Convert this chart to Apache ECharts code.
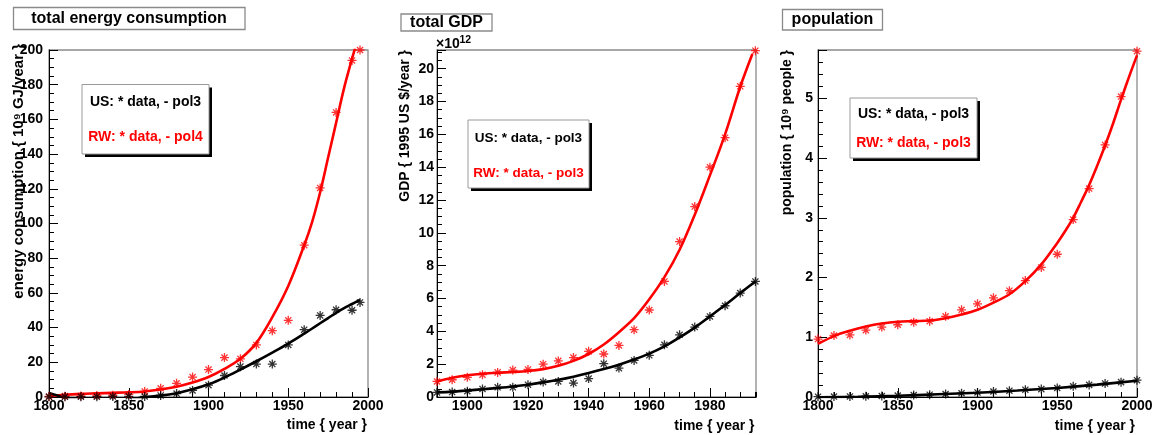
<!DOCTYPE html>
<html><head><meta charset="utf-8">
<script src="https://cdn.jsdelivr.net/npm/echarts@6/dist/echarts.min.js"></script>
<style>html,body{margin:0;padding:0;background:#fff}#c{width:1166px;height:435px}</style>
</head><body><div id="c"></div>
<script>
// ---------- data ----------
const energyYears = [1800,1810,1820,1830,1840,1850,1860,1870,1880,1890,1900,1910,1920,1930,1940,1950,1960,1970,1980,1990,1995];
const energyRW = [0.3,0.5,0.6,0.8,1.0,1.5,3.2,5.0,7.9,11.5,15.8,22.7,22.0,30.0,38.2,44.2,87.5,120.5,164,194,200];
const energyUS = [0.1,0.1,0.2,0.2,0.3,0.4,0.3,0.9,2.0,3.8,6.8,12.4,17.5,19.0,19.0,30.0,38.8,47.0,50.3,50.0,54.5];
const energyFitYears = [1800,1810,1820,1830,1840,1850,1860,1870,1880,1890,1900,1910,1920,1930,1940,1950,1960,1965,1970,1975,1980,1985,1990,1995];
const energyRWFit = [0.5,1.3,1.8,2.1,2.4,2.7,3.2,4.3,5.9,8.3,11.5,16.2,22.0,31.2,46.0,64.0,87.5,101,118,138,158,178,195,211];
const energyUSFit = [2.3,-0.3,-1.8,-2.6,-2.6,-1.8,0.0,0.8,2.2,4.4,7.3,11.2,15.8,20.6,25.6,30.8,36.5,39.5,42.5,45.5,48.5,51.2,53.6,56.0];

const gdpYears = [1890,1895,1900,1905,1910,1915,1920,1925,1930,1935,1940,1945,1950,1955,1960,1965,1970,1975,1980,1985,1990,1995];
const gdpRW = [0.95,1.05,1.2,1.36,1.5,1.64,1.68,2.0,2.2,2.4,2.78,2.62,3.14,4.1,5.3,7.04,9.47,11.6,14.0,15.8,18.93,21.1];
const gdpUS = [0.28,0.3,0.35,0.49,0.59,0.59,0.75,0.91,0.95,0.85,1.12,2.03,1.76,2.23,2.54,3.18,3.79,4.26,4.91,5.56,6.33,7.04];
const gdpRWFitYears = [1890,1895,1900,1905,1910,1915,1920,1925,1930,1935,1940,1945,1950,1955,1960,1965,1970,1975,1980,1985,1990,1994];
const gdpRWFit = [0.95,1.17,1.32,1.42,1.48,1.52,1.58,1.7,1.9,2.2,2.62,3.2,3.95,4.8,5.95,7.3,8.97,11.1,13.5,16.0,18.9,20.9];
const gdpUSFit = [0.28,0.33,0.4,0.47,0.55,0.64,0.75,0.89,1.05,1.24,1.46,1.7,1.97,2.28,2.64,3.08,3.63,4.23,4.91,5.6,6.33,7.04];

const popYears = [1800,1810,1820,1830,1840,1850,1860,1870,1880,1890,1900,1910,1920,1930,1940,1950,1960,1970,1980,1990,2000];
const popRW = [0.97,1.03,1.04,1.12,1.17,1.21,1.25,1.27,1.35,1.46,1.56,1.66,1.78,1.95,2.17,2.39,2.97,3.49,4.22,5.03,5.79];
const popUS = [0.0053,0.0072,0.0096,0.0129,0.017,0.0232,0.0314,0.0386,0.0502,0.063,0.076,0.092,0.106,0.123,0.132,0.151,0.179,0.203,0.227,0.249,0.281];
const popRWFitYears = [1800,1810,1820,1830,1840,1850,1860,1870,1880,1890,1900,1910,1920,1930,1940,1950,1955,1960,1965,1970,1975,1980,1985,1990,1995,2000];
const popRWFit = [0.89,1.02,1.11,1.18,1.23,1.26,1.27,1.28,1.32,1.38,1.46,1.58,1.72,1.94,2.22,2.58,2.78,3.0,3.27,3.55,3.87,4.21,4.58,4.98,5.36,5.72];
const popUSFitYears = [1800,1825,1850,1875,1900,1925,1950,1975,2000];
const popUSFit = [-0.005,0.004,0.02,0.045,0.072,0.108,0.152,0.207,0.272];

const gdpXLabels = [1900,1920,1940,1960,1980];

// ---------- helpers ----------
const FONT = '"Liberation Sans", Arial, Helvetica, sans-serif';
const RED = '#ff0000', BLACK = '#000000';
const pair = (xs, ys) => xs.map((x, i) => [x, ys[i]]);
const STAR = 'path://M5,0L5,10M0,5L10,5M1.6,1.6L8.4,8.4M1.6,8.4L8.4,1.6';
const plain = v => String(v);

function scatter(xi, yi, data, color) {
  return { type: 'scatter', xAxisIndex: xi, yAxisIndex: yi, data: data,
    symbol: STAR, symbolSize: 9, z: 4,
    itemStyle: { color: 'rgba(0,0,0,0)', borderColor: color, borderWidth: 1.3 } };
}
function fit(xi, yi, data, color) {
  return { type: 'line', xAxisIndex: xi, yAxisIndex: yi, data: data, smooth: 0.35,
    symbol: 'none', showSymbol: false, clip: true, z: 3,
    lineStyle: { color: color, width: 2.6 }, itemStyle: { color: color } };
}
const lbl = (m) => ({ margin: m, fontSize: 14, fontWeight: 'bold', color: '#000', fontFamily: FONT, formatter: plain });
const axLine = { onZero: false, lineStyle: { color: '#000', width: 1 } };
function yAx(gi, max, interval, split, margin) {
  return { gridIndex: gi, type: 'value', min: 0, max: max, interval: interval,
    axisLine: Object.assign({ show: true }, axLine),
    axisTick: { show: true, inside: true, length: 9, lineStyle: { color: '#000' } },
    minorTick: { show: true, splitNumber: split, length: 5, lineStyle: { color: '#000' } },
    splitLine: { show: false }, minorSplitLine: { show: false },
    axisLabel: Object.assign({ showMaxLabel: max % interval === 0 }, lbl(margin)) };
}
function txt(x, y, text, size, color, align, extra) {
  return Object.assign({ type: 'text', x: x, y: y, z: 100,
    style: { text: text, fill: color, font: 'bold ' + size + 'px ' + FONT,
      align: align, textAlign: align, verticalAlign: 'middle', textVerticalAlign: 'middle' } }, extra || {});
}
function titleBox(x, y, w, h, text, tx, ty) {
  return [
    { type: 'rect', z: 99, shape: { x: x, y: y, width: w, height: h },
      style: { fill: '#fff', stroke: '#8a8a8a', lineWidth: 1.3 } },
    txt(tx, ty, text, 16, '#000', 'center')
  ];
}
function legendBox(x, y, w, h, l1, l2, y1, y2, size) {
  return [
    { type: 'rect', z: 98, shape: { x: x + 3, y: y + 3, width: w, height: h }, style: { fill: '#000' } },
    { type: 'rect', z: 99, shape: { x: x, y: y, width: w, height: h },
      style: { fill: '#fff', stroke: '#9a9a9a', lineWidth: 1 } },
    txt(x + w / 2, y1, l1, size, '#000', 'center'),
    txt(x + w / 2, y2, l2, size, RED, 'center')
  ];
}

const grids = [
  { left: 49, top: 50, width: 319, height: 347 },
  { left: 437, top: 50, width: 319, height: 347 },
  { left: 818, top: 50, width: 319, height: 347 }
].map(g => Object.assign(g, { show: true, borderColor: '#8a8a8a', borderWidth: 1.3,
  backgroundColor: 'transparent', containLabel: false, outerBoundsMode: 'none' }));

const xAxes = [
  { gridIndex: 0, type: 'value', min: 1800, max: 2000, interval: 50, position: 'bottom',
    axisLine: axLine, axisTick: { inside: true, length: 9, lineStyle: { color: '#000' } },
    minorTick: { show: true, splitNumber: 5, length: 5, lineStyle: { color: '#000' } },
    splitLine: { show: false }, axisLabel: lbl(2) },
  { gridIndex: 1, type: 'value', min: 1890, max: 1995.2, position: 'bottom',
    axisLine: axLine,
    axisTick: { inside: true, length: 9, customValues: gdpXLabels, lineStyle: { color: '#000' } },
    splitLine: { show: false }, axisLabel: Object.assign({ customValues: gdpXLabels }, lbl(2)) },
  { gridIndex: 2, type: 'value', min: 1800, max: 2000, interval: 50, position: 'bottom',
    axisLine: axLine, axisTick: { inside: true, length: 9, lineStyle: { color: '#000' } },
    minorTick: { show: true, splitNumber: 5, length: 5, lineStyle: { color: '#000' } },
    splitLine: { show: false }, axisLabel: lbl(2) },
  { gridIndex: 1, type: 'value', min: 1890, max: 1995.2, interval: 5, position: 'bottom',
    axisLine: { show: false, onZero: false },
    axisTick: { inside: true, length: 5, lineStyle: { color: '#000' } },
    splitLine: { show: false }, axisLabel: { show: false } }
];
const yAxes = [ yAx(0, 200, 20, 4, 6), yAx(1, 21.14, 2, 4, 3), yAx(2, 5.81, 1, 5, 5) ];

const series = [
  scatter(0, 0, pair(energyYears, energyRW), RED),
  scatter(0, 0, pair(energyYears, energyUS), BLACK),
  fit(0, 0, pair(energyFitYears, energyRWFit), RED),
  fit(0, 0, pair(energyFitYears, energyUSFit), BLACK),
  scatter(1, 1, pair(gdpYears, gdpRW), RED),
  scatter(1, 1, pair(gdpYears, gdpUS), BLACK),
  fit(1, 1, pair(gdpRWFitYears, gdpRWFit), RED),
  fit(1, 1, pair(gdpYears, gdpUSFit), BLACK),
  scatter(2, 2, pair(popYears, popRW), RED),
  scatter(2, 2, pair(popYears, popUS), BLACK),
  fit(2, 2, pair(popRWFitYears, popRWFit), RED),
  fit(2, 2, pair(popUSFitYears, popUSFit), BLACK)
];

const rot = { rotation: Math.PI / 2 };
const graphics = [].concat(
  titleBox(13.5, 7.5, 231.5, 22, 'total energy consumption', 129, 18.5),
  titleBox(401, 14, 91, 17, 'total GDP', 446.5, 22.5),
  titleBox(782.5, 9.5, 100, 20.5, 'population', 832.5, 20),
  legendBox(82, 84.5, 127, 69.5, 'US: * data, - pol3', 'RW: * data, - pol4', 102.5, 137, 14),
  legendBox(468, 120, 121, 68, 'US: * data, - pol3', 'RW: * data, - pol3', 138.5, 173, 13.5),
  legendBox(850, 98, 127, 60, 'US: * data, - pol3', 'RW: * data, - pol3', 114.5, 143.5, 14),
  [
    txt(19, 44, 'energy consumption { 10⁹ GJ/year }', 15, '#000', 'right', rot),
    txt(405, 50, 'GDP { 1995 US $/year }', 14, '#000', 'right', rot),
    txt(787, 50, 'population { 10⁹ people }', 14, '#000', 'right', rot),
    txt(367, 425, 'time { year }', 14, '#000', 'right'),
    txt(754.5, 426, 'time { year }', 14, '#000', 'right'),
    txt(1135, 426, 'time { year }', 14, '#000', 'right'),
    txt(436, 44.5, '×10', 14, '#000', 'left'),
    txt(459.5, 40, '12', 10.5, '#000', 'left')
  ]
);

const chart = echarts.init(document.getElementById('c'), null, { renderer: 'canvas' });
chart.setOption({
  animation: false,
  backgroundColor: '#fff',
  textStyle: { fontFamily: FONT },
  grid: grids, xAxis: xAxes, yAxis: yAxes, series: series,
  graphic: { elements: graphics }
});
</script></body></html>
